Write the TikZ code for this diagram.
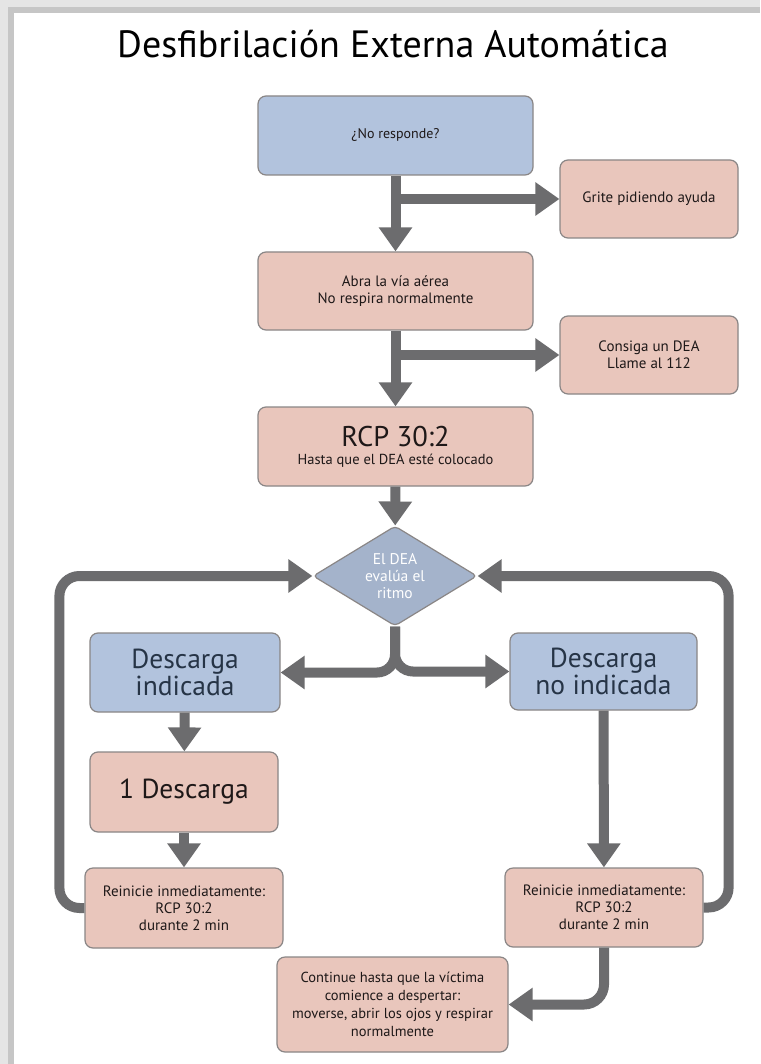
\documentclass[tikz,border=0pt]{standalone}
\usepackage{fontspec}
\setmainfont{PT Sans}
\usetikzlibrary{shapes.geometric,arrows.meta}

\definecolor{bluefill}{RGB}{178,195,221}
\definecolor{pinkfill}{RGB}{233,198,188}
\definecolor{boxline}{RGB}{138,134,134}
\definecolor{arrgray}{RGB}{108,108,110}
\definecolor{txtdark}{RGB}{30,24,24}
\definecolor{txtblue}{RGB}{38,52,70}

\tikzset{
  box/.style={draw=boxline, line width=1.2pt, rounded corners=8pt,
    align=center, inner sep=2pt, text=txtdark},
  bluebox/.style={box, fill=bluefill},
  pinkbox/.style={box, fill=pinkfill},
  small/.style={font=\fontsize{15}{17}\selectfont},
  big/.style={font=\fontsize{27.5}{25}\selectfont},
  arr/.style={draw=arrgray, line width=10pt,
    -{Triangle[width=32pt,length=24pt]}},
}

\begin{document}
\begin{tikzpicture}[x=1pt,y=-1pt]
  % frame
  \fill[gray!20] (0,0) rectangle (760,1064);
  \fill[gray!45] (8,7) rectangle (760,1064);
  \fill[white] (14,13) rectangle (760,1064);
  \useasboundingbox (0,0) rectangle (760,1064);

  \node (title) at (393,44) {\fontsize{38}{40}\selectfont Desfibrilación Externa Automática};

  % boxes
  \node[bluebox, font=\fontsize{14}{17}\selectfont, minimum width=275pt, minimum height=79pt] (norespon) at (395.5,135.5) {¿No responde?};
  \node[pinkbox, small, minimum width=178pt, minimum height=78pt] (grite) at (649,199) {Grite pidiendo ayuda};
  \node[pinkbox, small, minimum width=275pt, minimum height=78pt] (abra) at (395.5,291) {Abra la vía aérea\\No respira normalmente};
  \node[pinkbox, small, minimum width=178pt, minimum height=78pt] (consiga) at (649,355) {Consiga un DEA\\Llame al 112};
  \node[pinkbox, font=\fontsize{14.5}{18}\selectfont, minimum width=275pt, minimum height=79pt] (rcp) at (395.5,446.5)
    {{\fontsize{28.5}{28}\selectfont RCP 30:2}\\Hasta que el DEA esté colocado};
  \node[diamond, draw=boxline, line width=1.2pt, fill=bluefill!92!black, aspect=1.64,
    minimum width=164pt, minimum height=100pt, inner sep=0pt, rounded corners=4pt,
    align=center, text=white, font=\fontsize{15.5}{17}\selectfont] (eval) at (395,576) {El DEA\\evalúa el\\ritmo};
  \node[bluebox, big, text=txtblue, minimum width=190pt, minimum height=79pt] (desc) at (185,672.5) {Descarga\\indicada};
  \node[bluebox, big, text=txtblue, minimum width=187pt, minimum height=77pt] (nodesc) at (603.5,671.5) {Descarga\\no indicada};
  \node[pinkbox, big, minimum width=188pt, minimum height=80pt] (uno) at (184,792) {1 Descarga};
  \node[pinkbox, small, minimum width=198pt, minimum height=80pt] (reinL) at (184,908) {Reinicie inmediatamente:\\RCP 30:2\\durante 2 min};
  \node[pinkbox, small, minimum width=198pt, minimum height=79pt] (reinR) at (604,907.5) {Reinicie inmediatamente:\\RCP 30:2\\durante 2 min};
  \node[pinkbox, font=\fontsize{14.5}{18}\selectfont, minimum width=231pt, minimum height=95pt] (cont) at (392.5,1004.5)
    {Continue hasta que la víctima\\comience a despertar:\\moverse, abrir los ojos y respirar\\normalmente};

  % arrows
  \draw[arr] (norespon) -- (abra);
  \draw[arr] (norespon.south |- grite.west) -- (grite);
  \draw[arr] (abra) -- (rcp);
  \draw[arr] (abra.south |- consiga.west) -- (consiga);
  \draw[arr] (rcp) -- (eval);
  \draw[arr, rounded corners=18pt] (eval.south) |- (desc.east);
  \draw[arr, rounded corners=18pt] (eval.south) |- (nodesc.west);
  \draw[arr] (desc) -- (uno);
  \draw[arr] (uno) -- (reinL);
  \draw[arr] (nodesc) -- (reinR);
  \draw[arr, rounded corners=20pt] (reinL.west) -- ++(-25,0) |- (eval.west);
  \draw[arr, rounded corners=20pt] (reinR.east) -- ++(25,0) |- (eval.east);
  \draw[arr, rounded corners=20pt] (reinR.south) |- (cont.east);
\end{tikzpicture}
\end{document}
